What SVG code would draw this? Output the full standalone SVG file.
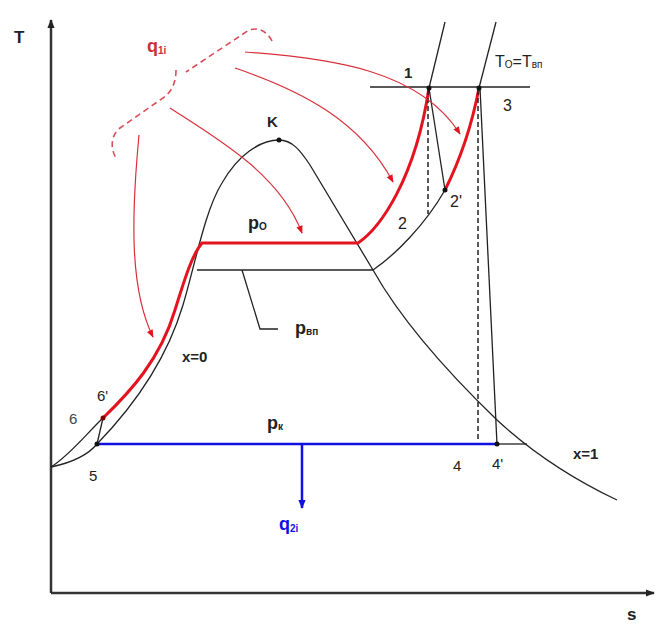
<svg xmlns="http://www.w3.org/2000/svg" width="663" height="627" viewBox="0 0 663 627">
<defs>
<style>
text{font-family:"Liberation Sans",Arial,sans-serif;fill:#222}
.b{font-weight:bold}
.ax{stroke:#333;stroke-width:2.5;fill:none}
.k{stroke:#222;stroke-width:1.3;fill:none}
.r{stroke:#e3141f;stroke-width:3;fill:none}
.ra{stroke:#d9303a;stroke-width:1.2;fill:none}
.d{stroke:#222;stroke-width:1.5;fill:none;stroke-dasharray:5,3}
.rd{stroke:#d5505a;stroke-width:1.6;fill:none;stroke-dasharray:6,4}
.bl{stroke:#1010e0;stroke-width:2.5;fill:none}
.sub{font-size:10px}
</style>
<marker id="ah" viewBox="0 0 10 10" refX="9" refY="5" markerWidth="9" markerHeight="9" markerUnits="userSpaceOnUse" orient="auto"><path d="M0,1 L10,5 L0,9 z" fill="#222"/></marker>
<marker id="rah" viewBox="0 0 10 10" refX="9" refY="5" markerWidth="10" markerHeight="8" markerUnits="userSpaceOnUse" orient="auto"><path d="M0,1 L10,5 L0,9 z" fill="#e3141f"/></marker>
<marker id="bah" viewBox="0 0 10 10" refX="9" refY="5" markerWidth="11" markerHeight="9" markerUnits="userSpaceOnUse" orient="auto"><path d="M0,1 L10,5 L0,9 z" fill="#1010e0"/></marker>
</defs>
<rect width="663" height="627" fill="#fff"/>

<g id="axes">
<path class="ax" d="M51,593 L51,20" marker-end="url(#ah)"/>
<path class="ax" d="M51,593 L654,593" marker-end="url(#ah)"/>
<text x="14" y="43" class="b" font-size="17">T</text>
<text x="627" y="620" class="b" font-size="17">s</text>
</g>

<g id="dome">
<path class="k" d="M97,444 C130,410 165,365 183,305 C195,265 205,210 222,183 C238,155 260,140 279,140 C292,140 300,150 310,165 L373,270 C400,318 440,365 497,420 C535,455 575,480 617,500"/>
<path class="k" d="M51,467 C70,463 88,455 97,444"/>
<path class="k" d="M51,467 C70,455 88,432 103,418"/>
<path class="k" d="M97,444 L103,418"/>
</g>

<g id="isobars">
<path class="k" d="M197,270 L373,270"/>
<path class="k" d="M373,270 C395,255 425,225 445,190"/>
<path class="k" d="M429,88 L445,22"/>
<path class="k" d="M479,88 L496,22"/>
<path class="k" d="M370,87 L530,87"/>
<path class="k" d="M242,270 L260,329 L278,329"/>
<path class="k" d="M497,444 L527,444"/>
</g>

<g id="processes">
<path class="r" d="M103,418 C130,392 160,360 175,310 C185,278 192,255 202,243 L358,243 C380,228 415,180 429,88"/>
<path class="r" d="M445,190 C455,170 470,135 479,88"/>
<path class="k" d="M429,88 L445,190"/>
<path class="k" d="M480,88 L497,444"/>
<path class="d" d="M428,90 L428,214"/>
<path class="d" d="M478,90 L478,442"/>
<path class="bl" d="M97,444 L497,444"/>
<path class="bl" stroke-width="1.5" d="M302,444 L302,508" marker-end="url(#bah)"/>
</g>

<g id="heat">
<path class="rd" d="M272,41 C267,31 258,27 249,30 L186,72 M176,70 C176,82 172,92 163,98 L120,128 C111,135 110,148 116,158"/>
<path class="ra" d="M139,135 C131,220 130,290 153,337" marker-end="url(#rah)"/>
<path class="ra" d="M170,108 C220,140 280,175 302,233" marker-end="url(#rah)"/>
<path class="ra" d="M235,68 C300,90 360,120 393,182" marker-end="url(#rah)"/>
<path class="ra" d="M245,52 C330,58 420,70 460,134" marker-end="url(#rah)"/>
</g>

<g id="points" fill="#111">
<circle cx="279" cy="140" r="2.5"/>
<circle cx="429" cy="88" r="2.5"/>
<circle cx="479" cy="88" r="2.5"/>
<circle cx="445" cy="190" r="2.5"/>
<circle cx="97" cy="444" r="2.5"/>
<circle cx="497" cy="444" r="2.5"/>
<circle cx="103" cy="418" r="2.5" fill="#700"/>
</g>

<g id="labels">
<text x="147" y="52" class="b" font-size="18" style="fill:#c8323a">q<tspan class="sub" dy="2">1i</tspan></text>
<text x="267" y="127" class="b" font-size="15">K</text>
<text x="248" y="229" class="b" font-size="18">p<tspan class="sub" dy="1">O</tspan></text>
<text x="404" y="78" class="b" font-size="15">1</text>
<text x="495" y="67" font-size="16">T<tspan class="sub" dy="1">O</tspan><tspan dy="-1">=T</tspan><tspan class="sub" dy="1">вп</tspan></text>
<text x="503" y="111" font-size="16">3</text>
<text x="450" y="207" font-size="16">2'</text>
<text x="398" y="229" font-size="16">2</text>
<text x="295" y="334" class="b" font-size="18">p<tspan class="sub" dy="1">вп</tspan></text>
<text x="182" y="362" class="b" font-size="15">x=0</text>
<text x="97" y="401" font-size="15">6'</text>
<text x="69" y="424" font-size="15" style="fill:#444">6</text>
<text x="89" y="481" font-size="15">5</text>
<text x="267" y="429" class="b" font-size="18">p<tspan class="sub" dy="1">к</tspan></text>
<text x="453" y="471" font-size="15">4</text>
<text x="492" y="469" font-size="15">4'</text>
<text x="573" y="459" class="b" font-size="15">x=1</text>
<text x="279" y="530" class="b" font-size="18" style="fill:#1010e0">q<tspan class="sub" dy="2">2i</tspan></text>
</g>
</svg>
